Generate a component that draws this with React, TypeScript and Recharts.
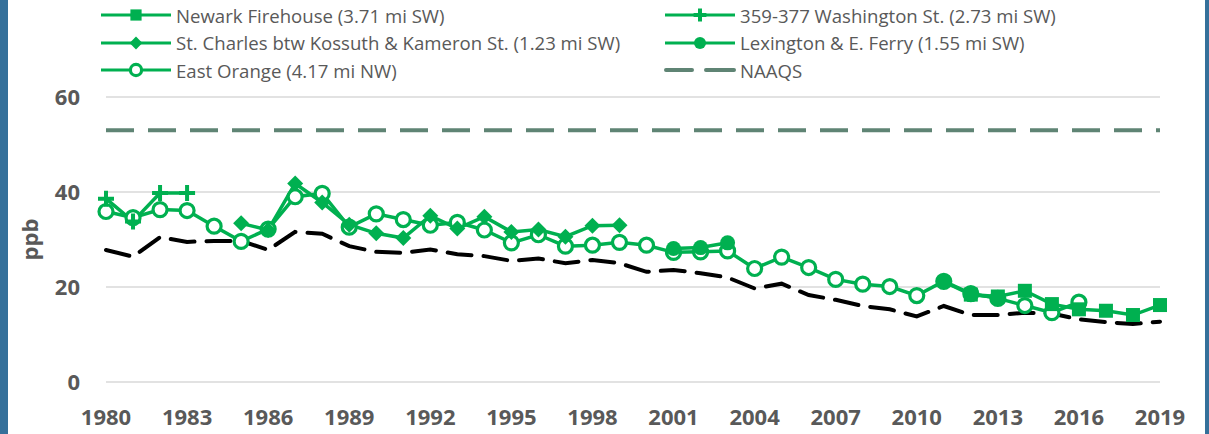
import { LineChart, Line, XAxis, YAxis, CartesianGrid } from 'recharts';

const years = [
  1980, 1981, 1982, 1983, 1984, 1985, 1986, 1987, 1988, 1989,
  1990, 1991, 1992, 1993, 1994, 1995, 1996, 1997, 1998, 1999,
  2000, 2001, 2002, 2003, 2004, 2005, 2006, 2007, 2008, 2009,
  2010, 2011, 2012, 2013, 2014, 2015, 2016, 2017, 2018, 2019,
];

const newark = [
  null, null, null, null, null, null, null, null, null, null,
  null, null, null, null, null, null, null, null, null, null,
  null, null, null, null, null, null, null, null, null, null,
  null, null, 18.4, 18.0, 19.2, 16.4, 15.3, 15.0, 14.1, 16.2,
];

const washington = [
  38.6, 33.8, 39.8, 39.8, null, null, null, null, null, null,
  null, null, null, null, null, null, null, null, null, null,
  null, null, null, null, null, null, null, null, null, null,
  null, null, null, null, null, null, null, null, null, null,
];

const stCharles = [
  null, null, null, null, null, 33.4, 32.0, 41.8, 37.8, 33.1,
  31.3, 30.3, 35.0, 32.3, 34.8, 31.6, 32.1, 30.6, 32.9, 33.0,
  null, null, null, null, null, null, null, null, null, null,
  null, null, null, null, null, null, null, null, null, null,
];

const lexington = [
  null, null, null, null, null, null, null, null, null, null,
  null, null, null, null, null, null, null, null, null, null,
  null, 28.1, 28.3, 29.3, null, null, null, null, null, null,
  null, 21.1, 18.4, 17.8, null, null, null, null, null, null,
];

const eastOrange = [
  35.9, 34.6, 36.3, 36.1, 32.8, 29.6, 32.2, 39.0, 39.7, 32.6,
  35.4, 34.2, 33.0, 33.6, 32.0, 29.3, 31.0, 28.6, 28.8, 29.4,
  28.8, 27.3, 27.4, 27.6, 23.9, 26.3, 24.1, 21.6, 20.6, 20.1,
  18.2, 21.2, 18.6, 17.6, 16.1, 14.6, 16.8, null, null, null,
];

const naaqs = [
  53, 53, 53, 53, 53, 53, 53, 53, 53, 53,
  53, 53, 53, 53, 53, 53, 53, 53, 53, 53,
  53, 53, 53, 53, 53, 53, 53, 53, 53, 53,
  53, 53, 53, 53, 53, 53, 53, 53, 53, 53,
];

// black dashed line, not in the legend
const composite = [
  27.8, 26.4, 30.5, 29.5, 29.7, 29.7, 27.8, 31.6, 31.2, 28.6,
  27.4, 27.2, 27.9, 26.9, 26.5, 25.5, 26.0, 25.0, 25.7, 25.0,
  23.2, 23.6, 22.9, 22.0, 19.7, 20.7, 18.3, 17.3, 16.0, 15.3,
  13.8, 16.0, 14.1, 14.1, 14.6, 14.4, 13.2, 12.6, 12.2, 12.7,
];

const yTicks = [0, 20, 40, 60];

const data = years.map((year, i) => ({
  year,
  newark: newark[i],
  washington: washington[i],
  stCharles: stCharles[i],
  lexington: lexington[i],
  eastOrange: eastOrange[i],
  naaqs: naaqs[i],
  composite: composite[i],
}));

const GREEN = '#00b050';
const NAAQS_COLOR = '#5f8474';
const TEXT = '#595959';

type Shape = 'square' | 'plus' | 'diamond' | 'dot' | 'ring' | 'none';

function Marker({ shape, cx, cy, s = 1 }: { shape: Shape; cx: number; cy: number; s?: number }) {
  switch (shape) {
    case 'square':
      return <rect x={cx - 7 * s} y={cy - 7 * s} width={14 * s} height={14 * s} fill={GREEN} />;
    case 'plus':
      return (
        <path
          d={`M${cx - 8 * s},${cy}H${cx + 8 * s}M${cx},${cy - 8 * s}V${cy + 8 * s}`}
          stroke={GREEN}
          strokeWidth={4}
        />
      );
    case 'diamond':
      return (
        <polygon
          points={`${cx},${cy - 8 * s} ${cx + 8 * s},${cy} ${cx},${cy + 8 * s} ${cx - 8 * s},${cy}`}
          fill={GREEN}
        />
      );
    case 'dot':
      return <circle cx={cx} cy={cy} r={7.5 * s} fill={GREEN} />;
    case 'ring':
      return <circle cx={cx} cy={cy} r={7 * s} fill="#fff" stroke={GREEN} strokeWidth={3.2} />;
    default:
      return null;
  }
}

const makeDot = (shape: Shape) => (props: any) => {
  const { cx, cy, value, index } = props;
  if (value == null || cx == null || cy == null) return <g key={`e-${index}`} />;
  return (
    <g key={`m-${index}`}>
      <Marker shape={shape} cx={cx} cy={cy} />
    </g>
  );
};

const legendItems: { label: string; shape: Shape; dashed?: boolean }[] = [
  { label: 'Newark Firehouse (3.71 mi SW)', shape: 'square' },
  { label: '359-377 Washington St. (2.73 mi SW)', shape: 'plus' },
  { label: 'St. Charles btw Kossuth & Kameron St. (1.23 mi SW)', shape: 'diamond' },
  { label: 'Lexington & E. Ferry (1.55 mi SW)', shape: 'dot' },
  { label: 'East Orange (4.17 mi NW)', shape: 'ring' },
  { label: 'NAAQS', shape: 'none', dashed: true },
];

function LegendBox() {
  return (
    <div style={{ position: 'absolute', left: 0, top: 0, width: 1209, height: 85 }}>
      {legendItems.map((item, i) => {
        const col = i % 2;
        const row = Math.floor(i / 2);
        const left = col === 0 ? 100 : 664;
        const top = 15 + row * 27.5;
        return (
          <div
            key={item.label}
            style={{
              position: 'absolute',
              left,
              top: top - 12,
              height: 24,
              display: 'flex',
              alignItems: 'center',
              whiteSpace: 'nowrap',
            }}
          >
            <svg width={72} height={24} style={{ display: 'block' }}>
              {item.dashed ? (
                <path
                  d="M2,12H28M42,12H70"
                  stroke={NAAQS_COLOR}
                  strokeWidth={4}
                  strokeLinecap="round"
                />
              ) : (
                <>
                  <path d="M1,12H71" stroke={GREEN} strokeWidth={3} />
                  <Marker shape={item.shape} cx={36} cy={12} s={0.8} />
                </>
              )}
            </svg>
            <span style={{ marginLeft: 4, fontSize: 18.6, color: TEXT }}>{item.label}</span>
          </div>
        );
      })}
    </div>
  );
}

export default function App() {
  return (
    <div
      style={{
        position: 'absolute',
        left: 0,
        top: 0,
        width: 1209,
        height: 434,
        background: '#fff',
        overflow: 'hidden',
        fontFamily: '"Open Sans", "Noto Sans", sans-serif',
      }}
    >
      <LineChart
        width={1209}
        height={434}
        data={data}
        margin={{ top: 97, right: 49, bottom: 0, left: 0 }}
      >
        <CartesianGrid vertical={false} stroke="#d9d9d9" strokeWidth={1.5} />
        <XAxis
          dataKey="year"
          interval={2}
          axisLine={false}
          tickLine={false}
          tickSize={0}
          tickMargin={27}
          height={52}
          tick={{ fill: TEXT, fontSize: 22, fontWeight: 700 }}
        />
        <YAxis
          width={106}
          domain={[0, 60]}
          ticks={yTicks}
          axisLine={false}
          tickLine={false}
          tickSize={0}
          tickMargin={26}
          tick={{ fill: TEXT, fontSize: 22, fontWeight: 700 }}
          label={{
            value: 'ppb',
            angle: -90,
            position: 'insideLeft',
            offset: 30,
            style: { fill: TEXT, fontSize: 22, fontWeight: 700, textAnchor: 'middle' },
          }}
        />
        <Line
          dataKey="composite"
          stroke="#000"
          strokeWidth={4}
          strokeDasharray="24 12"
          strokeLinecap="round"
          dot={false}
          legendType="none"
          isAnimationActive={false}
        />
        <Line
          dataKey="naaqs"
          name="NAAQS"
          stroke={NAAQS_COLOR}
          strokeWidth={4}
          strokeDasharray="28 14"
          dot={false}
          isAnimationActive={false}
        />
        <Line
          dataKey="eastOrange"
          name="East Orange (4.17 mi NW)"
          stroke={GREEN}
          strokeWidth={3.5}
          dot={makeDot('ring')}
          activeDot={false}
          isAnimationActive={false}
        />
        <Line
          dataKey="stCharles"
          name="St. Charles btw Kossuth & Kameron St. (1.23 mi SW)"
          stroke={GREEN}
          strokeWidth={3.5}
          dot={makeDot('diamond')}
          activeDot={false}
          isAnimationActive={false}
        />
        <Line
          dataKey="washington"
          name="359-377 Washington St. (2.73 mi SW)"
          stroke={GREEN}
          strokeWidth={3.5}
          dot={makeDot('plus')}
          activeDot={false}
          isAnimationActive={false}
        />
        <Line
          dataKey="lexington"
          name="Lexington & E. Ferry (1.55 mi SW)"
          stroke={GREEN}
          strokeWidth={3.5}
          dot={makeDot('dot')}
          activeDot={false}
          isAnimationActive={false}
        />
        <Line
          dataKey="newark"
          name="Newark Firehouse (3.71 mi SW)"
          stroke={GREEN}
          strokeWidth={3.5}
          dot={makeDot('square')}
          activeDot={false}
          isAnimationActive={false}
        />
      </LineChart>
      <LegendBox />
      <div style={{ position: 'absolute', left: 0, top: 0, width: 8, height: 434, background: '#35709a' }} />
      <div style={{ position: 'absolute', left: 1205, top: 0, width: 4, height: 434, background: '#35709a' }} />
    </div>
  );
}
